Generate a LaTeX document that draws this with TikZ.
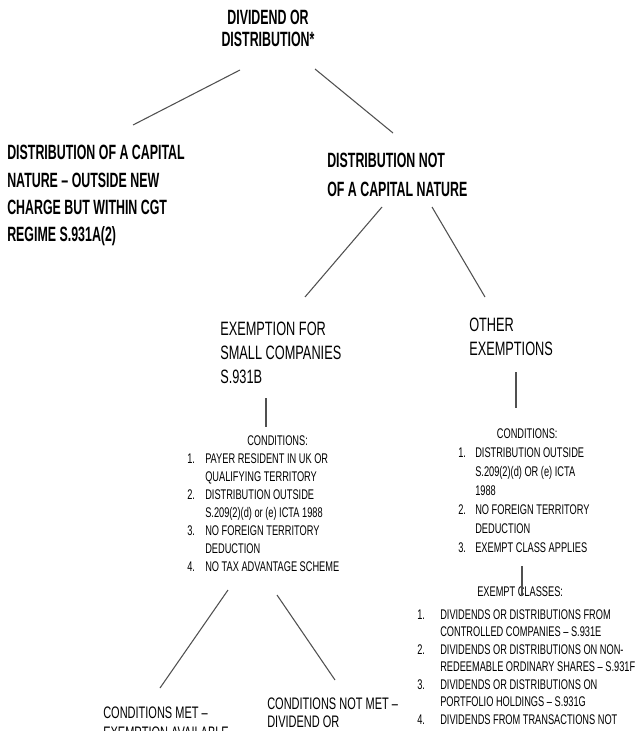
\documentclass[tikz,border=0pt]{standalone}
\usepackage{fontspec}
\setmainfont{Liberation Sans}[FakeStretch=0.66]
\newfontfamily\headfont{Liberation Sans}[FakeStretch=0.6, Ligatures=TeX]
\usepackage{tikz}
\usetikzlibrary{positioning,calc}
\definecolor{linkgray}{RGB}{80,80,80}
\tikzstyle{title} = [inner sep=0pt, align=center, font=\headfont\bfseries\fontsize{15.5}{16.5}\selectfont]
\tikzstyle{head} = [inner sep=0pt, align=left, font=\headfont\bfseries\fontsize{15.5}{20.5}\selectfont]
\tikzstyle{subhead} = [inner sep=0pt, align=left, font=\fontsize{14.5}{18}\selectfont]
\tikzstyle{cond} = [inner sep=0pt, font=\fontsize{10.5}{13.5}\selectfont]
\tikzstyle{outcome} = [inner sep=0pt, align=left, font=\fontsize{12.5}{13.1}\selectfont]
\tikzstyle{link} = [line width=0.8pt, color=linkgray]

\begin{document}
\begin{tikzpicture}[x=0.75pt, y=-0.75pt]
\useasboundingbox (0,0) rectangle (640,731);
\clip (0,0) rectangle (640,731);

% Top levels
\node (root) [title, anchor=north] at (268,10) {DIVIDEND OR\\DISTRIBUTION*};
\node (capital) [head, anchor=north west] at (7,145) {DISTRIBUTION OF A CAPITAL\\NATURE -- OUTSIDE NEW\\CHARGE BUT WITHIN CGT\\REGIME S.931A(2)};
\node (notcap) [head, anchor=north west, font=\headfont\bfseries\fontsize{15.5}{21.75}\selectfont] at (327,153) {DISTRIBUTION NOT\\OF A CAPITAL NATURE};

% Exemptions
\node (small) [subhead, anchor=north west] at (220,322) {EXEMPTION FOR\\SMALL COMPANIES\\S.931B};
\node (other) [subhead, anchor=north west] at (469,318) {OTHER\\EXEMPTIONS};

% Conditions
\node (condA) [cond, anchor=north west] at (187,433) {\begin{tabular}{@{}p{13.5pt}@{}l@{}}
\multicolumn{2}{@{}l@{}}{\hspace*{45pt}CONDITIONS:}\\
1. & PAYER RESIDENT IN UK OR\\
 & QUALIFYING TERRITORY\\
2. & DISTRIBUTION OUTSIDE\\
 & S.209(2)(d) or (e) ICTA 1988\\
3. & NO FOREIGN TERRITORY\\
 & DEDUCTION\\
4. & NO TAX ADVANTAGE SCHEME
\end{tabular}};
\node (condB) [cond, anchor=north west, font=\fontsize{10.5}{14.25}\selectfont] at (458,425) {\begin{tabular}{@{}p{12.75pt}@{}l@{}}
\multicolumn{2}{@{}l@{}}{\hspace*{29pt}CONDITIONS:}\\
1. & DISTRIBUTION OUTSIDE\\
 & S.209(2)(d) OR (e) ICTA\\
 & 1988\\
2. & NO FOREIGN TERRITORY\\
 & DEDUCTION\\
3. & EXEMPT CLASS APPLIES
\end{tabular}};
\node (exempt) [cond, anchor=north west, font=\fontsize{10.5}{13.1}\selectfont] at (417,584) {\begin{tabular}{@{}p{17.25pt}@{}l@{}}
\multicolumn{2}{@{}l@{}}{\hspace*{45pt}EXEMPT CLASSES:}\\[4pt]
1. & DIVIDENDS OR DISTRIBUTIONS FROM\\
 & CONTROLLED COMPANIES -- S.931E\\
2. & DIVIDENDS OR DISTRIBUTIONS ON NON-\\
 & REDEEMABLE ORDINARY SHARES -- S.931F\\
3. & DIVIDENDS OR DISTRIBUTIONS ON\\
 & PORTFOLIO HOLDINGS -- S.931G\\
4. & DIVIDENDS FROM TRANSACTIONS NOT
\end{tabular}};

% Outcomes
\node (met) [outcome, anchor=north west, font=\fontsize{12.5}{15}\selectfont] at (103,707) {CONDITIONS MET --\\EXEMPTION AVAILABLE};
\node (notmet) [outcome, anchor=north west] at (267,698) {CONDITIONS NOT MET --\\DIVIDEND OR};

% Links
\draw[link] ($(root.north)+(-28,60)$) -- ($(capital.north west)+(126,-20)$);
\draw[link] ($(root.north)+(47,59)$) -- ($(notcap.north west)+(66,-20)$);
\draw[link] ($(notcap.north west)+(55,54)$) -- ($(small.north west)+(85,-25)$);
\draw[link] ($(notcap.north west)+(105,54)$) -- ($(other.north west)+(16,-21)$);
\draw[link] ($(small.north west)+(46,76)$) -- ($(condA.north west)+(79,-6)$);
\draw[link] ($(other.north west)+(47,54)$) -- ($(condB.north west)+(58,-17)$);
\draw[link] ($(condB.north west)+(64,141)$) -- ($(exempt.north west)+(105,12)$);
\draw[link] ($(condA.north west)+(41,157)$) -- ($(met.north west)+(57,-19)$);
\draw[link] ($(condA.north west)+(90,162)$) -- ($(notmet.north west)+(68,-18)$);
\end{tikzpicture}
\end{document}
